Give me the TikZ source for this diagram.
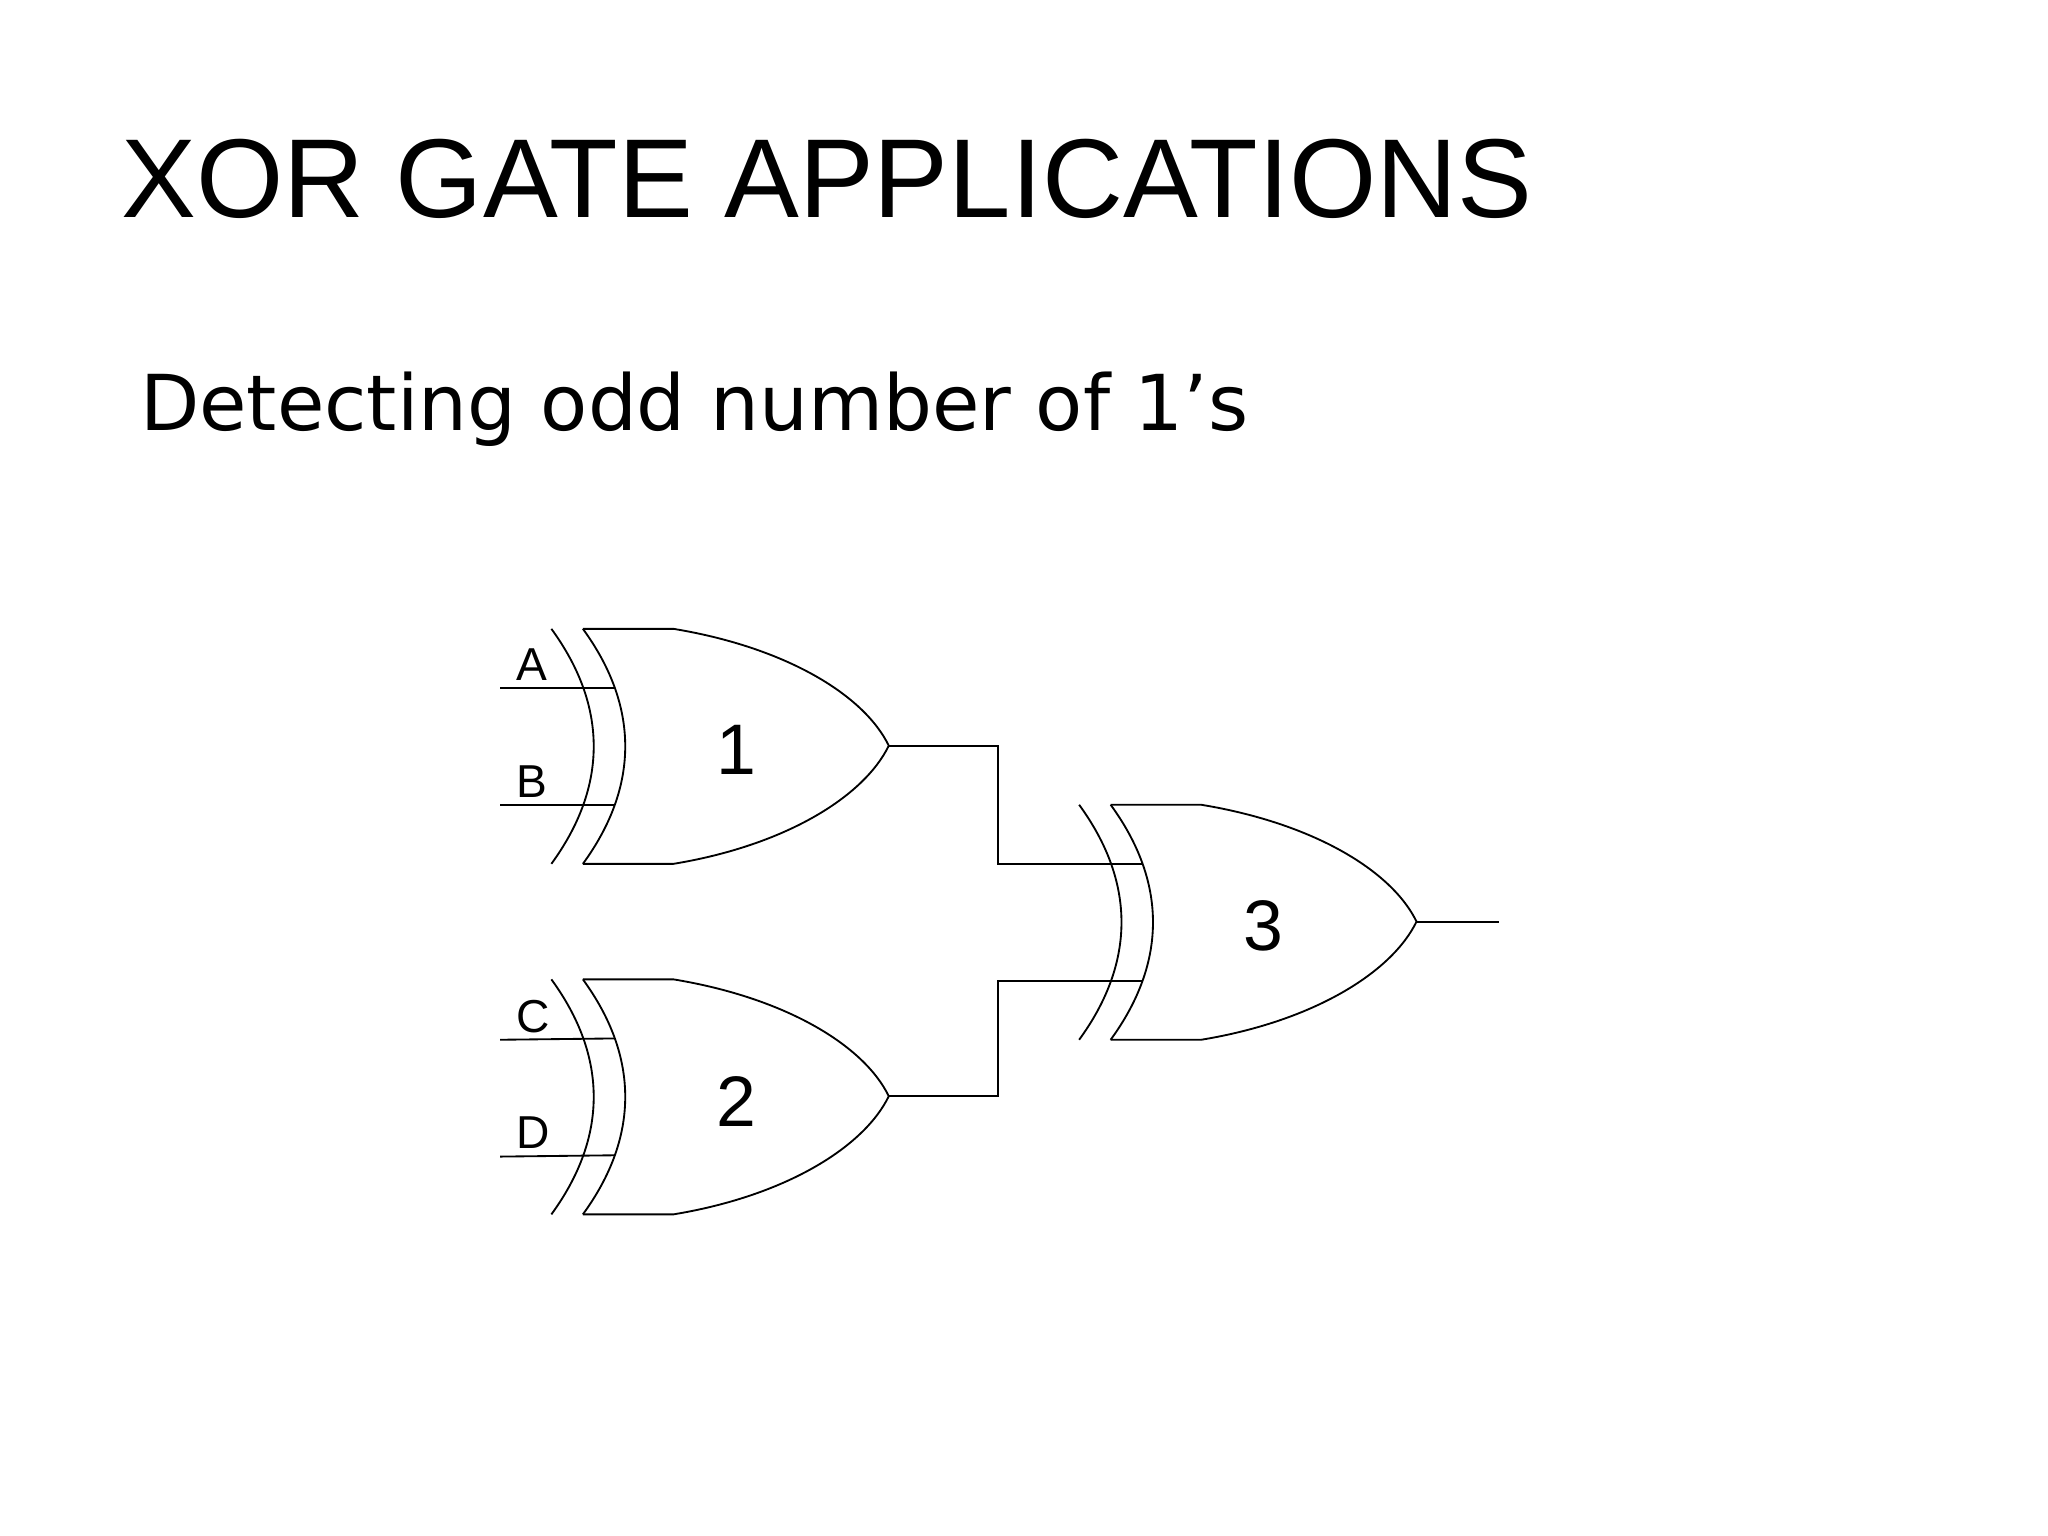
\documentclass[tikz,border=0pt]{standalone}
\usepackage{fontspec}
\setmainfont{Liberation Sans}
\newfontfamily\subfont{DejaVu Sans}
\newcommand\myxor[3]{%
\begin{scope}[shift={(#1,#2)}]
\draw[gate] (0,0) .. controls (43,59) and (43,120) .. (0,179);
\draw[gate] (24,0) .. controls (67,59) and (67,120) .. (24,179);
\draw[gate] (24,0) -- (93,0) .. controls (178,14) and (238,50) .. (257,89)
  .. controls (238,128) and (178,165) .. (93,179) -- (24,179);
\coordinate (#3out) at (257,89);
\coordinate (#3ina) at (48,45);
\coordinate (#3inb) at (48,134);
\end{scope}}
\tikzset{gate/.style={draw=black,line width=0.4pt},wire/.style={draw=black,line width=0.4pt},
lbl/.style={font=\fontsize{10}{12}\selectfont},num/.style={font=\fontsize{15.5}{18}\selectfont}}
\begin{document}
\begin{tikzpicture}[x=0.01cm,y=-0.01cm]
\useasboundingbox[fill=white] (0,0) rectangle (1560,1170);
\node[anchor=base west,inner sep=0,font=\fontsize{24.3}{30}\selectfont] (title) at (92,166) {XOR GATE APPLICATIONS};
\node[anchor=base west,inner sep=0,font=\subfont\fontsize{16.7}{20}\selectfont] (sub) at (106,328) {Detecting odd number of 1’s};
\myxor{420}{479}{g1}
\myxor{420}{746}{g2}
\myxor{822}{613}{g3}
\node[num] (n1) at (561,571) {1};
\node[num] (n2) at (561,839) {2};
\node[num] (n3) at (962,705) {3};
\coordinate (a) at (381,524); \coordinate (b) at (381,613);
\coordinate (c) at (381,792); \coordinate (d) at (381,881);
\draw[wire] (a) -- (g1ina); \draw[wire] (b) -- (g1inb);
\draw[wire] (c) -- (g2ina); \draw[wire] (d) -- (g2inb);
\node[lbl] (la) at (405,506) {A}; \node[lbl] (lb) at (405,595) {B};
\node[lbl] (lc) at (406,774) {C}; \node[lbl] (ld) at (406,863) {D};
\draw[wire] (g1out) -| (760,658) -- (g3ina);
\draw[wire] (g2out) -| (760,747) -- (g3inb);
\coordinate (o) at (1142,702);
\draw[wire] (g3out) -- (o);
\end{tikzpicture}
\end{document}
